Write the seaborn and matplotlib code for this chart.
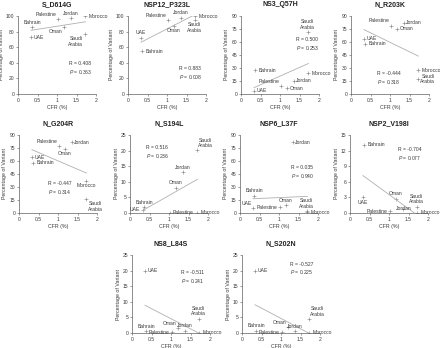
import matplotlib
matplotlib.use("Agg")
from matplotlib import pyplot as plt
import numpy as np
import seaborn as sns

# countries and their case fatality rate (%)
countries = ['UAE', 'Bahrain', 'Palestine', 'Oman', 'Jordan', 'Saudi\nArabia', 'Morocco']
cfr = [0.33, 0.37, 1.03, 1.17, 1.35, 1.71, 1.73]

# percentage of variant, same country order
s_d614g = [72.8, 85.5, 96.0, 86.0, 97.0, 76.6, 99.6]
nsp12_p323l = [71.8, 55.0, 94.4, 87.6, 98.0, 95.0, 100.0]
ns3_q57h = [3.8, 27.6, 9.6, 6.9, 15.0, 71.3, 24.0]
n_r203k = [64.0, 58.0, 79.0, 75.0, 82.0, 17.0, 27.5]
n_g204r = [64.4, 57.9, 77.0, 74.0, 81.6, 16.0, 37.0]
n_s194l = [1.0, 1.9, 0.0, 8.1, 13.1, 20.1, 0.0]
nsp6_l37f = [5.4, 20.0, 6.9, 8.8, 81.6, 2.0, 1.0]
nsp2_v198i = [3.0, 13.1, 0.3, 2.7, 0.8, 1.2, 0.0]
ns8_l84s = [20.0, 0.5, 0.3, 1.5, 0.8, 4.5, 0.0]
n_s202n = [20.0, 0.8, 0.3, 2.0, 0.5, 4.5, 0.0]

titles = ['S_D614G', 'NSP12_P323L', 'NS3_Q57H', 'N_R203K', 'N_G204R',
          'N_S194L', 'NSP6_L37F', 'NSP2_V198I', 'NS8_L84S', 'N_S202N']
values = [s_d614g, nsp12_p323l, ns3_q57h, n_r203k, n_g204r,
          n_s194l, nsp6_l37f, nsp2_v198i, ns8_l84s, n_s202n]
r_vals = ['0.408', '0.883', '0.500', '-0.444', '-0.447',
          '0.516', '0.035', '-0.704', '-0.511', '-0.527']
p_vals = ['0.363', '0.008', '0.253', '0.318', '0.314',
          '0.236', '0.940', '0.077', '0.241', '0.225']
y_max = [100, 100, 90, 90, 90, 25, 90, 15, 25, 25]
y_step = [20, 20, 15, 15, 15, 5, 15, 3, 5, 5]

# layout (pixels in a 440x348 figure): left edge, top edge of each axes
ax_left = [18, 128, 241, 351, 19, 130, 240, 350, 132, 242]
ax_top = [16, 16, 16, 16, 135, 135, 135, 135, 255, 255]
ax_w, ax_h = 78, 78

# country label placement per panel
label_pos = [
    ['r', 'a', 'al', 'bl', 'a', 'bl', 'r'],
    ['a', 'r', 'al', 'b', 'a', 'b', 'r'],
    ['r', 'r', 'al', 'r', 'r', 'a', 'r'],
    ['r', 'r', 'al', 'r', 'r', 'r', 'r'],
    ['r', 'r', 'al', 'b', 'r', 'br', 'b'],
    ['l', 'a', 'r', 'a', 'a', 'ar', 'r'],
    ['al', 'a', 'l', 'a', 'r', 'a', 'r'],
    ['b', 'r', 'l', 'a', 'c', 'a', 'r'],
    ['r', 'a', 'l', 'al', 'a', 'a', 'r'],
    ['r', 'a', 'l', 'al', 'a', 'ar', 'r'],
]
offsets = {
    'r': ((2, 0), 'left', 'center'),
    'l': ((-2, 0), 'right', 'center'),
    'a': ((0, 1.8), 'center', 'bottom'),
    'b': ((0, -1.8), 'center', 'top'),
    'c': ((0.5, 0.3), 'center', 'center'),
    'al': ((-1, 1.5), 'right', 'bottom'),
    'ar': ((1, 1.5), 'left', 'bottom'),
    'bl': ((-1, -1.5), 'right', 'top'),
    'br': ((1.5, -1.5), 'left', 'top'),
}
rp_pos = [(0.65, 0.33), (0.66, 0.26), (0.70, 0.63), (0.33, 0.20), (0.37, 0.31),
          (0.20, 0.78), (0.66, 0.52), (0.62, 0.745), (0.63, 0.71), (0.61, 0.82)]

sns.set_theme(style='ticks')
plt.rcParams['font.family'] = ['Liberation Sans', 'DejaVu Sans']
plt.rcParams['mathtext.fontset'] = 'custom'
plt.rcParams['mathtext.it'] = 'Liberation Sans:italic'
plt.rcParams['mathtext.rm'] = 'Liberation Sans'

txt = '#3a3a3a'
fig = plt.figure(figsize=(4.4, 3.48), dpi=100)
W, H = 440, 348

for i in range(10):
    ax = fig.add_axes([ax_left[i] / W, 1 - (ax_top[i] + ax_h) / H, ax_w / W, ax_h / H])
    sns.regplot(x=np.array(cfr), y=np.array(values[i]), ax=ax, ci=None, marker='+',
                scatter_kws={'s': 6, 'color': '#707070', 'linewidths': 0.45},
                line_kws={'color': '#b0b0b0', 'linewidth': 0.6})
    ax.set_xlim(0, 2)
    ax.set_ylim(0, y_max[i])
    ax.set_xticks([0, 0.5, 1, 1.5, 2])
    ax.set_xticklabels(['0', '0.5', '1', '1.5', '2'])
    ax.set_yticks(np.arange(0, y_max[i] + 0.1, y_step[i]))
    ax.tick_params(labelsize=3.6, length=1.5, width=0.4, pad=1.2, colors='#555555',
                   labelcolor=txt)
    for s in ['left', 'bottom']:
        ax.spines[s].set_linewidth(0.5)
        ax.spines[s].set_color('#606060')
    sns.despine(ax=ax)
    ax.set_xlabel('CFR (%)', fontsize=3.8, color=txt, labelpad=1.5)
    ax.set_ylabel('Percentage of Variant', fontsize=3.8, color=txt, labelpad=1.5)
    ax.set_title(titles[i], fontsize=5, fontweight='bold', color='#222222', pad=7)

    for j, c in enumerate(countries):
        (dx, dy), ha, va = offsets[label_pos[i][j]]
        ax.annotate(c, (cfr[j], values[i][j]), xytext=(dx, dy), textcoords='offset points',
                    ha=ha, va=va, fontsize=3.6, color=txt, multialignment='center',
                    linespacing=1.1, annotation_clip=False)

    ax.text(rp_pos[i][0], rp_pos[i][1],
            'R = ' + r_vals[i] + '\n$\\it{P}$ = ' + p_vals[i],
            transform=ax.transAxes, fontsize=3.6, color=txt, ha='left', va='center',
            linespacing=1.3)

plt.savefig('out.png', dpi=100)
